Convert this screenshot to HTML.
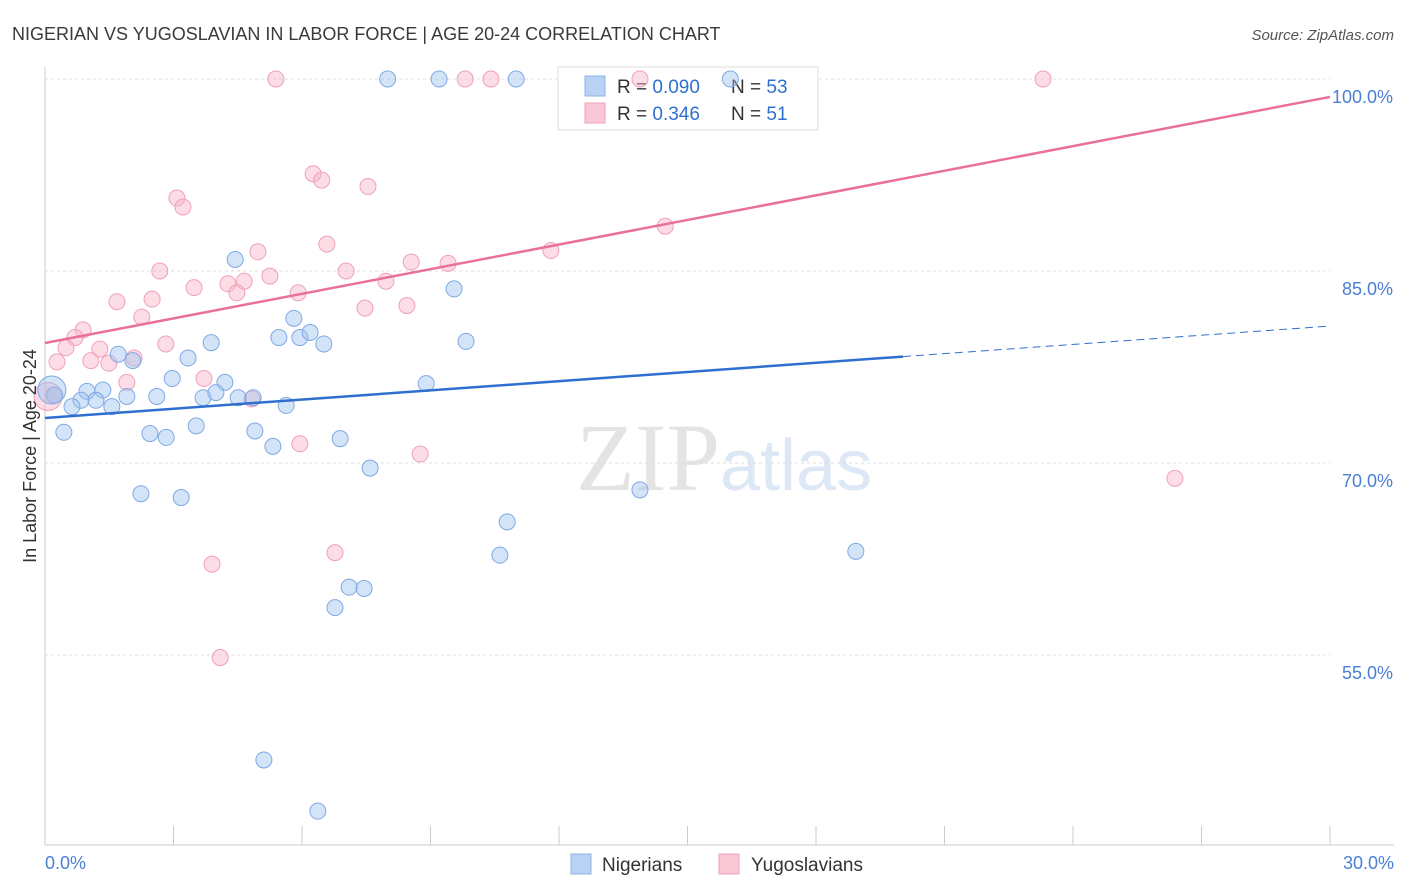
<!DOCTYPE html>
<html><head><meta charset="utf-8"><style>
body{margin:0;background:#fff;font-family:"Liberation Sans",sans-serif}
svg{display:block}
</style></head><body>
<svg id="c" width="1406" height="892">
<text x="12" y="40" font-size="18" fill="#3a3a3a">NIGERIAN VS YUGOSLAVIAN IN LABOR FORCE | AGE 20-24 CORRELATION CHART</text>
<text x="1394" y="40" font-size="15" fill="#555" text-anchor="end" font-style="italic">Source: ZipAtlas.com</text>
<text x="720" y="490" font-size="96" fill="#e4e4e4" text-anchor="end" font-family="Liberation Serif">ZIP</text>
<text x="720" y="490" font-size="72" fill="#dde8f6">atlas</text>
<g id="grid"></g>
<g>
<rect x="558" y="67" width="260" height="63" fill="#fff" stroke="#ddd"/>
<rect x="585" y="76" width="20" height="20" fill="#b8d2f4" stroke="#8ab4e8"/>
<rect x="585" y="103" width="20" height="20" fill="#f9c8d6" stroke="#f0a0b8"/>
<text x="617" y="93" font-size="19" fill="#333">R = <tspan fill="#2f6fd0">0.090</tspan></text>
<text x="731" y="93" font-size="19" fill="#333">N = <tspan fill="#2f6fd0">53</tspan></text>
<text x="617" y="120" font-size="19" fill="#333">R = <tspan fill="#2f6fd0"> 0.346</tspan></text>
<text x="731" y="120" font-size="19" fill="#333">N = <tspan fill="#2f6fd0"> 51</tspan></text>
</g>
<g id="pts"></g><g id="lines"></g>
<text x="36" y="456" font-size="18" fill="#333" text-anchor="middle" transform="rotate(-90 36 456)">In Labor Force | Age 20-24</text>
<text x="45" y="869" font-size="18" fill="#4a7fd4">0.0%</text>
<text x="1394" y="869" font-size="18" fill="#4a7fd4" text-anchor="end">30.0%</text>
<g>
<rect x="571" y="854" width="20" height="20" fill="#b8d2f4" stroke="#8ab4e8"/>
<text x="602" y="871" font-size="19" fill="#333">Nigerians</text>
<rect x="719" y="854" width="20" height="20" fill="#f9c8d6" stroke="#f0a0b8"/>
<text x="751" y="871" font-size="19" fill="#333">Yugoslavians</text>
</g>
</svg>
<script>
const yTicks=[100,85,70,55];
const yTickLabels=["100.0%","85.0%","70.0%","55.0%"];
const nigX=[8.0,9.2,11.0,16.0,4.44,9.55,5.81,5.46,5.95,6.19,6.51,9.83,3.88,1.71,2.05,3.34,2.97,4.2,8.9,0.98,1.35,1.91,2.61,0.84,1.19,0.63,1.56,0.23,3.69,3.99,4.51,4.86,5.63,3.53,2.45,2.83,0.44,4.9,6.89,5.32,7.59,13.89,2.24,3.18,10.79,10.62,18.93,7.1,7.45,6.77,5.11,6.37,0.16];
const nigY=[100,100,100,100,85.9,83.6,81.3,79.8,79.8,80.2,79.3,79.5,79.4,78.5,78.0,78.2,76.6,76.3,76.2,75.6,75.7,75.2,75.2,74.9,74.9,74.4,74.4,75.3,75.1,75.5,75.1,75.1,74.5,72.9,72.3,72.0,72.4,72.5,71.9,71.3,69.6,67.9,67.6,67.3,65.4,62.8,63.1,60.3,60.2,58.7,46.8,42.8,75.7];
const yugX=[5.39,9.81,10.41,13.89,23.3,6.26,6.46,7.54,3.08,3.22,14.48,6.58,4.97,11.81,8.55,9.41,2.68,7.03,5.25,4.65,4.27,7.96,3.48,4.48,5.91,2.5,1.68,7.47,8.45,2.26,0.89,0.7,0.49,2.82,1.28,2.08,0.28,1.07,1.49,1.91,3.71,0.19,4.83,5.95,8.76,26.38,6.77,3.9,4.09,0.07];
const yugY=[100,100,100,100,100,92.6,92.1,91.6,90.7,90.0,88.5,87.1,86.5,86.6,85.7,85.6,85.0,85.0,84.6,84.2,84.0,84.2,83.7,83.3,83.3,82.8,82.6,82.1,82.3,81.4,80.4,79.8,79.0,79.3,78.9,78.2,77.9,78.0,77.8,76.3,76.6,75.3,75.0,71.5,70.7,68.8,63.0,62.1,54.8,75.2];
const nigTrend=[73.52,80.7], yugTrend=[79.375,98.6], nigSolidEnd=20.03;
const NS="http://www.w3.org/2000/svg";
const X=v=>45+v/30*1285, Y=v=>79+(100-v)*12.8;
function mk(t,a,p){const e=document.createElementNS(NS,t);for(const k in a)e.setAttribute(k,a[k]);p.appendChild(e);return e;}
const g=document.getElementById('grid');
yTicks.forEach((t,i)=>{
 const l=mk('line',{x1:45,x2:1330,y1:Y(t),y2:Y(t),stroke:'#ddd','stroke-dasharray':'3,3'},g);
 
 
 const tx=mk('text',{x:1393,y:Y(t)+24,'font-size':18,fill:'#4a7fd4','text-anchor':'end'},g);
 tx.textContent=yTickLabels[i];
 
 
});
const ax=mk('line',{x1:45,x2:1394,y1:845,y2:845,stroke:'#ccc'},g);


const ay=mk('line',{x1:45,x2:45,y1:67,y2:845,stroke:'#ccc'},g);


for(let i=0;i<=10;i++){const t=mk('line',{x1:X(i*3),x2:X(i*3),y1:826,y2:845,stroke:'#ccc'},g);
 
 }
const p=document.getElementById('pts');
function pts(xs,ys,fill,stroke,name){xs.forEach((x,i)=>{
 const r=(i===xs.length-1)?14:8;
 const c=mk('circle',{cx:X(x),cy:Y(ys[i]),r:r,fill:fill,stroke:stroke,'stroke-width':1},p);
 
 });}
pts(yugX,yugY,'rgba(248,180,200,0.45)','#f0a0b8','yugoslavian-point');
pts(nigX,nigY,'rgba(160,196,240,0.45)','#7fa9e4','nigerian-point');
const L=document.getElementById('lines');
const nt=v=>nigTrend[0]+(nigTrend[1]-nigTrend[0])*v/30;
let a=mk('line',{x1:X(0),y1:Y(nt(0)),x2:X(nigSolidEnd),y2:Y(nt(nigSolidEnd)),stroke:'#2f6fd0','stroke-width':2.5},L);


a=mk('line',{x1:X(nigSolidEnd),y1:Y(nt(nigSolidEnd)),x2:X(30),y2:Y(nt(30)),stroke:'#2f6fd0','stroke-width':1,'stroke-dasharray':'8,5'},L);


a=mk('line',{x1:X(0),y1:Y(yugTrend[0]),x2:X(30),y2:Y(yugTrend[1]),stroke:'#e8709a','stroke-width':2.5},L);


</script>
</body></html>
